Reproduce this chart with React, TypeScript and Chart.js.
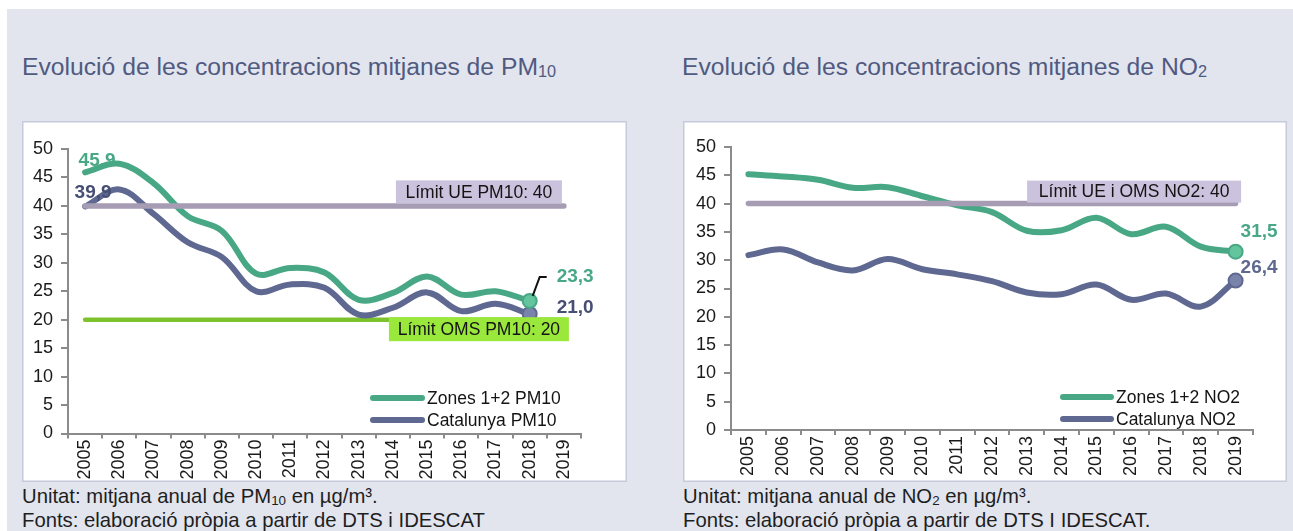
import React, { useEffect, useRef } from 'react';
import { Chart, registerables } from 'chart.js';

Chart.register(...registerables);

const FONT = "'Liberation Sans', Arial, Helvetica, sans-serif";

// ---------- data ----------
const years = ['2005', '2006', '2007', '2008', '2009', '2010', '2011', '2012', '2013', '2014', '2015', '2016', '2017', '2018', '2019'];
const yTicks = [0, 5, 10, 15, 20, 25, 30, 35, 40, 45, 50];

const pm10Zones: (number | null)[] = [45.9, 47.4, 44.0, 38.2, 35.6, 28.1, 29.1, 28.3, 23.5, 24.7, 27.6, 24.4, 25.0, 23.3, null];
const pm10Catalunya: (number | null)[] = [39.9, 42.9, 38.6, 33.6, 31.0, 25.0, 26.2, 25.6, 20.9, 22.1, 24.8, 21.5, 22.8, 21.0, null];
const pm10LimitEU = 40;
const pm10LimitWHO = 20;

const no2Zones: (number | null)[] = [45.2, 44.8, 44.2, 42.8, 42.9, 41.3, 39.7, 38.5, 35.2, 35.3, 37.5, 34.6, 35.9, 32.4, 31.5];
const no2Catalunya: (number | null)[] = [30.9, 31.9, 29.6, 28.2, 30.2, 28.4, 27.5, 26.3, 24.3, 24.0, 25.7, 23.0, 24.1, 21.8, 26.4];
const no2Limit = 40;

const seriesNamesPM10 = ['Zones 1+2 PM10', 'Catalunya PM10'];
const seriesNamesNO2 = ['Zones 1+2 NO2', 'Catalunya NO2'];
const limitTextsPM10 = ['Límit UE PM10: 40', 'Límit OMS PM10: 20'];
const limitTextNO2 = 'Límit UE i OMS NO2: 40';

// ---------- styles ----------
const GREEN = '#48a886';
const GREEN_FILL = '#63c49e';
const SLATE = '#5e6890';
const SLATE_FILL = '#7a84aa';
const SLATE_LABEL = '#464e74';
const PURPLE_LINE = '#a69cb4';
const PURPLE_BOX = '#cbc2dd';
const LIME_LINE = '#7cc22c';
const LIME_BOX = '#9be83c';

const fmt = (v: number) => v.toFixed(1).replace('.', ',');

const bgPlugin = {
  id: 'bgbox',
  beforeDraw(chart: any) {
    const { ctx, width, height } = chart;
    ctx.save();
    ctx.fillStyle = '#ffffff';
    ctx.fillRect(0, 0, width, height);
    ctx.strokeStyle = '#c6cbdb';
    ctx.lineWidth = 1.5;
    ctx.strokeRect(0.75, 0.75, width - 1.5, height - 1.5);
    ctx.restore();
  },
};

const overlayPlugin = {
  id: 'overlay',
  afterDatasetsDraw(chart: any, _args: any, opts: any) {
    const ctx: CanvasRenderingContext2D = chart.ctx;
    const xs = chart.scales.x;
    const ys = chart.scales.y;
    ctx.save();
    // limit label boxes
    for (const b of opts.boxes || []) {
      const cx = xs.getPixelForValue(b.idx) + b.dx;
      const cy = ys.getPixelForValue(b.value) + b.dy;
      ctx.fillStyle = b.fill;
      ctx.fillRect(cx - b.w / 2, cy - b.h / 2, b.w, b.h);
      ctx.fillStyle = '#141414';
      ctx.font = `17.5px ${FONT}`;
      ctx.textAlign = 'center';
      ctx.textBaseline = 'middle';
      ctx.fillText(b.text, cx, cy + 1);
    }
    // data labels
    for (const l of opts.labels || []) {
      const pt = chart.getDatasetMeta(l.ds).data[l.idx];
      const v = chart.data.datasets[l.ds].data[l.idx];
      if (!pt || v == null) continue;
      if (l.leader) {
        ctx.strokeStyle = '#111';
        ctx.lineWidth = 2;
        ctx.beginPath();
        l.leader.forEach((p: number[], i: number) => {
          const x = pt.x + p[0];
          const y = pt.y + p[1];
          if (i === 0) ctx.moveTo(x, y);
          else ctx.lineTo(x, y);
        });
        ctx.stroke();
      }
      ctx.fillStyle = l.color;
      ctx.font = `bold 19px ${FONT}`;
      ctx.textAlign = l.align;
      ctx.textBaseline = 'middle';
      ctx.fillText(fmt(v), pt.x + l.dx, pt.y + l.dy);
    }
    // legend
    const lg = opts.legend;
    if (lg) {
      lg.items.forEach((it: any, i: number) => {
        const y = lg.y + i * lg.rowGap;
        ctx.strokeStyle = it.color;
        ctx.lineWidth = 6;
        ctx.lineCap = 'round';
        ctx.beginPath();
        ctx.moveTo(lg.x + 3, y);
        ctx.lineTo(lg.x + lg.len - 3, y);
        ctx.stroke();
        ctx.fillStyle = '#141414';
        ctx.font = `17.5px ${FONT}`;
        ctx.textAlign = 'left';
        ctx.textBaseline = 'middle';
        ctx.fillText(it.text, lg.x + lg.len + 2, y + 1);
      });
    }
    ctx.restore();
  },
};

function markRadius(markIdx: number, r: number) {
  return (c: any) => (c.dataIndex === markIdx ? r : 0);
}

function buildConfig(p: any) {
  const datasets: any[] = [];
  p.limits.forEach((lim: any, i: number) => {
    datasets.push({
      label: 'limit' + i,
      data: years.map(() => lim.value),
      borderColor: lim.color,
      borderWidth: lim.width,
      borderCapStyle: 'round',
      pointRadius: 0,
      tension: 0,
      order: lim.order,
    });
  });
  p.series.forEach((s: any) => {
    datasets.push({
      label: s.name,
      data: s.data,
      borderColor: s.color,
      borderWidth: 6,
      borderCapStyle: 'round',
      borderJoinStyle: 'round',
      tension: 0.36,
      pointRadius: markRadius(s.markIdx, 7),
      pointBackgroundColor: s.fill,
      pointBorderColor: s.color,
      pointBorderWidth: 2,
      spanGaps: false,
      order: s.order,
    });
  });
  const axisColor = '#8b8b8b';
  return {
    type: 'line',
    data: { labels: years, datasets },
    plugins: [bgPlugin, overlayPlugin],
    options: {
      responsive: false,
      animation: false,
      devicePixelRatio: 1,
      events: [],
      layout: { padding: { left: 0, top: p.area.top, right: p.W - p.area.right, bottom: 0 } },
      plugins: {
        legend: { display: false },
        tooltip: { enabled: false },
        title: { display: false },
        overlay: { boxes: p.boxes, labels: p.labels, legend: p.legend },
      },
      scales: {
        x: {
          type: 'category',
          offset: true,
          grid: { display: true, drawOnChartArea: false, drawTicks: true, tickLength: 5, offset: true, color: axisColor, lineWidth: 2 },
          border: { display: true, color: axisColor, width: 2 },
          ticks: {
            autoSkip: false,
            minRotation: 90,
            maxRotation: 90,
            padding: 1,
            color: '#1a1a1a',
            font: { family: FONT, size: 18 },
          },
          afterFit: (scale: any) => {
            scale.height = p.H - p.area.bottom;
          },
        },
        y: {
          min: 0,
          max: 50,
          afterBuildTicks: (scale: any) => {
            scale.ticks = yTicks.map((v) => ({ value: v }));
          },
          grid: { display: true, drawOnChartArea: false, drawTicks: true, tickLength: 7, color: axisColor, lineWidth: 2 },
          border: { display: true, color: axisColor, width: 2 },
          ticks: {
            padding: 8,
            color: '#1a1a1a',
            font: { family: FONT, size: 18 },
          },
          afterFit: (scale: any) => {
            scale.width = p.area.left;
          },
        },
      },
    },
  };
}

function ChartBox(props: { params: any; left: number; top: number }) {
  const ref = useRef<HTMLCanvasElement | null>(null);
  useEffect(() => {
    if (!ref.current) return;
    const chart = new Chart(ref.current, buildConfig(props.params) as any);
    return () => chart.destroy();
  }, []);
  const { W, H } = props.params;
  return (
    <canvas
      ref={ref}
      width={W}
      height={H}
      style={{ position: 'absolute', left: props.left, top: props.top, width: W, height: H }}
    />
  );
}

const pm10Params = {
  W: 605,
  H: 361,
  area: { left: 46, right: 559, top: 28, bottom: 312.5 },
  limits: [
    { value: pm10LimitEU, color: PURPLE_LINE, width: 5.5, order: 0 },
    { value: pm10LimitWHO, color: LIME_LINE, width: 4.5, order: 5 },
  ],
  series: [
    { name: seriesNamesPM10[0], data: pm10Zones, color: GREEN, fill: GREEN_FILL, markIdx: 13, order: 1 },
    { name: seriesNamesPM10[1], data: pm10Catalunya, color: SLATE, fill: SLATE_FILL, markIdx: 13, order: 2 },
  ],
  boxes: [
    { text: limitTextsPM10[0], idx: 14, value: pm10LimitEU, dx: -85, dy: -14, w: 166, h: 23, fill: PURPLE_BOX },
    { text: limitTextsPM10[1], idx: 14, value: pm10LimitWHO, dx: -85, dy: 9.5, w: 180, h: 24, fill: LIME_BOX },
  ],
  labels: [
    { ds: 2, idx: 0, dx: 12, dy: -12, align: 'center', color: GREEN },
    { ds: 3, idx: 0, dx: 8, dy: -14, align: 'center', color: SLATE_LABEL },
    { ds: 2, idx: 13, dx: 27, dy: -24, align: 'left', color: GREEN, leader: [[3, -5], [10, -24], [17, -24]] },
    { ds: 3, idx: 13, dx: 27, dy: -6, align: 'left', color: SLATE_LABEL },
  ],
  legend: {
    x: 348,
    y: 277,
    len: 55,
    rowGap: 22,
    items: [
      { text: seriesNamesPM10[0], color: GREEN },
      { text: seriesNamesPM10[1], color: SLATE },
    ],
  },
};

const no2Params = {
  W: 604,
  H: 361,
  area: { left: 48, right: 570, top: 26, bottom: 309 },
  limits: [{ value: no2Limit, color: PURPLE_LINE, width: 5.5, order: 0 }],
  series: [
    { name: seriesNamesNO2[0], data: no2Zones, color: GREEN, fill: GREEN_FILL, markIdx: 14, order: 1 },
    { name: seriesNamesNO2[1], data: no2Catalunya, color: SLATE, fill: SLATE_FILL, markIdx: 14, order: 2 },
  ],
  boxes: [{ text: limitTextNO2, idx: 14, value: no2Limit, dx: -101.5, dy: -12, w: 214, h: 22, fill: PURPLE_BOX }],
  labels: [
    { ds: 1, idx: 14, dx: 5, dy: -20, align: 'left', color: GREEN },
    { ds: 2, idx: 14, dx: 5, dy: -12.5, align: 'left', color: SLATE },
  ],
  legend: {
    x: 377,
    y: 276,
    len: 54,
    rowGap: 22,
    items: [
      { text: seriesNamesNO2[0], color: GREEN },
      { text: seriesNamesNO2[1], color: SLATE },
    ],
  },
};

const titleStyle: React.CSSProperties = {
  position: 'absolute',
  top: 52,
  fontSize: 24.7,
  lineHeight: '30px',
  color: '#505a80',
  whiteSpace: 'nowrap',
  fontFamily: FONT,
};

const noteStyle: React.CSSProperties = {
  position: 'absolute',
  top: 484,
  fontSize: 20.3,
  lineHeight: '24px',
  color: '#1e1e1e',
  whiteSpace: 'nowrap',
  fontFamily: FONT,
};

const subStyle: React.CSSProperties = { fontSize: '0.66em', verticalAlign: '-0.12em', lineHeight: 0 };

export default function App() {
  return (
    <div style={{ position: 'fixed', left: 0, top: 0, width: 1293, height: 531, overflow: 'hidden', background: '#ffffff', fontFamily: FONT }}>
      <div style={{ position: 'absolute', left: 7, top: 9, width: 1286, height: 522, background: '#e2e5ee' }} />
      <div style={{ ...titleStyle, left: 22 }}>
        Evolució de les concentracions mitjanes de PM<span style={subStyle}>10</span>
      </div>
      <div style={{ ...titleStyle, left: 682 }}>
        Evolució de les concentracions mitjanes de NO<span style={subStyle}>2</span>
      </div>
      <ChartBox params={pm10Params} left={22} top={121} />
      <ChartBox params={no2Params} left={683} top={121} />
      <div style={{ ...noteStyle, left: 22 }}>
        <div>
          Unitat: mitjana anual de PM<span style={subStyle}>10</span> en µg/m³.
        </div>
        <div>Fonts: elaboració pròpia a partir de DTS i IDESCAT</div>
      </div>
      <div style={{ ...noteStyle, left: 683 }}>
        <div>
          Unitat: mitjana anual de NO<span style={subStyle}>2</span> en µg/m³.
        </div>
        <div>Fonts: elaboració pròpia a partir de DTS I IDESCAT.</div>
      </div>
    </div>
  );
}
